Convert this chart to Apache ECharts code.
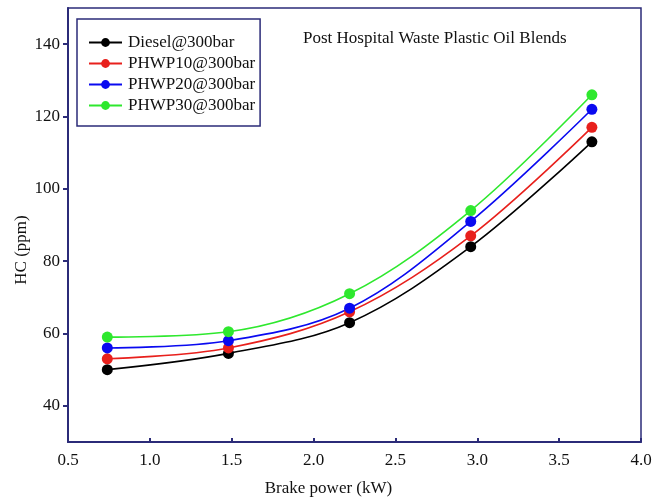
<!DOCTYPE html>
<html>
<head>
<meta charset="utf-8">
<script src="https://cdn.jsdelivr.net/npm/echarts@6/dist/echarts.min.js"></script>
<style>
  html, body { margin: 0; padding: 0; background: #fff; }
  #chart { width: 660px; height: 502px; }
</style>
</head>
<body>
<div id="chart"></div>
<script>
// brake power (kW)
var power = [0.74, 1.48, 2.22, 2.96, 3.70];
// HC (ppm)
var diesel = [50, 54.5, 63, 84, 113];
var phwp10 = [53, 56, 66, 87, 117];
var phwp20 = [56, 58, 67, 91, 122];
var phwp30 = [59, 60.5, 71, 94, 126];
var yTicks = [40, 60, 80, 100, 120, 140];

var seriesList = [
  { name: 'Diesel@300bar', data: diesel, color: '#000000' },
  { name: 'PHWP10@300bar', data: phwp10, color: '#e8201c' },
  { name: 'PHWP20@300bar', data: phwp20, color: '#0a0af0' },
  { name: 'PHWP30@300bar', data: phwp30, color: '#2ee82e' },
];

var axisColor = '#2b2b78';
var font = "'Liberation Serif', 'Times New Roman', serif";

var chart = echarts.init(document.getElementById('chart'));
chart.setOption({
  animation: false,
  textStyle: { fontFamily: font },
  grid: {
    left: 68,
    right: 19,
    top: 8,
    bottom: 58,
    show: true,
    borderColor: axisColor,
    borderWidth: 1.5,
  },
  title: {
    text: 'Post Hospital Waste Plastic Oil Blends',
    left: 298,
    top: 25,
    textStyle: { fontFamily: font, fontSize: 17, fontWeight: 'normal', color: '#111' },
  },
  legend: {
    orient: 'vertical',
    left: 77,
    top: 19,
    padding: [15, 5, 12, 11],
    itemGap: 4,
    itemWidth: 33,
    itemHeight: 11,
    borderColor: axisColor,
    borderWidth: 1.5,
    textStyle: { fontFamily: font, fontSize: 17, color: '#111', padding: [0, 0, 0, 1] },
    data: seriesList.map(function (s) { return s.name; }),
  },
  xAxis: {
    type: 'value',
    min: 0.5,
    max: 4.0,
    interval: 0.5,
    name: 'Brake power (kW)',
    nameLocation: 'middle',
    nameGap: 38,
    nameTextStyle: { fontFamily: font, fontSize: 17, color: '#111', padding: [0, 52, 0, 0] },
    axisLine: { lineStyle: { color: axisColor, width: 2 } },
    axisTick: { show: true, inside: true, length: 4, lineStyle: { color: axisColor, width: 2 } },
    axisLabel: {
      fontFamily: font, fontSize: 17, color: '#111', margin: 10,
      formatter: function (v) { return v.toFixed(1); },
    },
    splitLine: { show: false },
  },
  yAxis: {
    type: 'value',
    min: 30,
    max: 150,
    name: 'HC (ppm)',
    nameLocation: 'middle',
    nameGap: 38,
    nameMoveOverlap: false,
    nameTextStyle: { fontFamily: font, fontSize: 17, color: '#111', padding: [0, 50, 0, 0] },
    axisLine: { show: true, lineStyle: { color: axisColor, width: 2 } },
    axisTick: { show: true, length: 5, customValues: yTicks, lineStyle: { color: axisColor, width: 2 } },
    axisLabel: { fontFamily: font, fontSize: 17, color: '#111', margin: 8, customValues: yTicks },
    splitLine: { show: false },
  },
  series: seriesList.map(function (s) {
    return {
      name: s.name,
      type: 'line',
      smooth: 0.35,
      symbol: 'circle',
      symbolSize: 11,
      color: s.color,
      lineStyle: { color: s.color, width: 1.6 },
      itemStyle: { color: s.color },
      data: power.map(function (x, i) { return [x, s.data[i]]; }),
    };
  }),
});
</script>
</body>
</html>
